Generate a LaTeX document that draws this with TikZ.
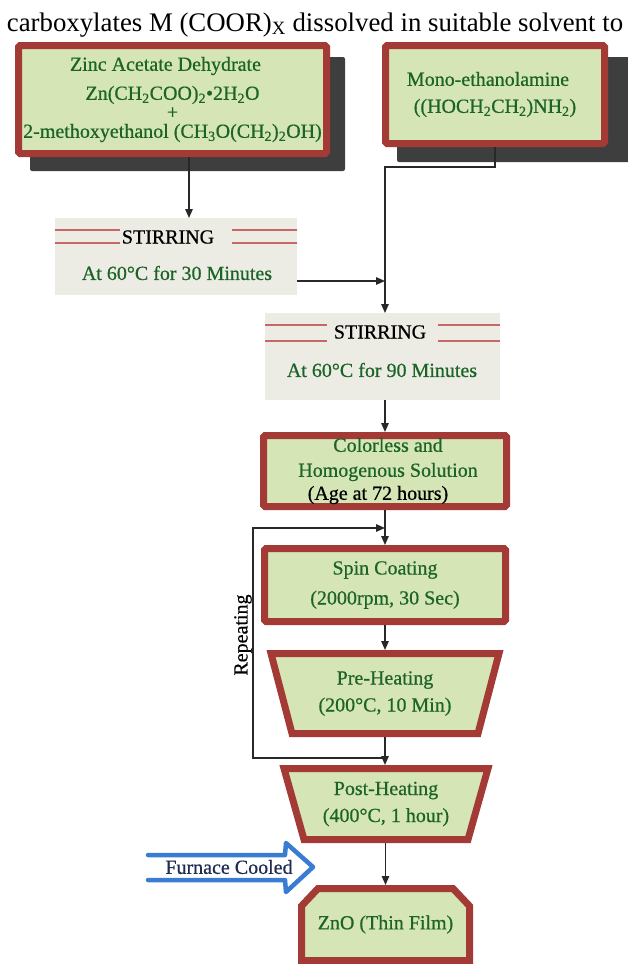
\documentclass[tikz,border=0pt]{standalone}
\usepackage{fontspec}
\setmainfont{Liberation Serif}
\newfontfamily\heavyfont{Liberation Serif}[FakeBold=0.6]
\usetikzlibrary{arrows.meta,backgrounds}
\definecolor{boxfill}{RGB}{213,229,182}
\definecolor{boxred}{RGB}{164,58,54}
\definecolor{shadowc}{RGB}{62,62,62}
\definecolor{txtgreen}{RGB}{28,100,38}
\definecolor{stirfill}{RGB}{236,236,229}
\definecolor{stirline}{RGB}{196,104,104}
\definecolor{arrowblue}{RGB}{58,124,212}
\definecolor{navy}{RGB}{30,44,84}
\definecolor{connc}{RGB}{40,40,40}
\begin{document}
\begin{tikzpicture}[x=1pt,y=-1pt,
  every node/.style={font=\heavyfont\fontsize{20}{27}\selectfont, inner sep=0pt},
  redbox/.style={draw=boxred, line width=7pt, fill=boxfill, rounded corners=1.5pt, text=txtgreen, align=center},
  ghost/.style={text=txtgreen, align=center, outer sep=0pt},
  trapborder/.style={draw=boxred, line width=7pt, fill=boxfill},
  stirbox/.style={fill=stirfill, outer sep=0pt},
  stirrule/.style={draw=stirline, line width=1.6pt},
  conn/.style={draw=connc, line width=1.4pt, -{Triangle[length=9pt,width=7.5pt]}},
  shadowfill/.style={fill=shadowc, rounded corners=2pt},
  coolarrow/.style={draw=arrowblue, line width=4.5pt, line join=round, line cap=round},
]
\useasboundingbox (0,0) rectangle (627,964);

% title
\node[anchor=base, font=\rmfamily\fontsize{26.8}{30}\selectfont] (title) at (315,31)
  {carboxylates M (COOR)\textsubscript{X} dissolved in suitable solvent to};

% top boxes
\node[redbox, minimum width=308, minimum height=108] (zinc) at (172.5,99.5)
  {Zinc Acetate Dehydrate\hspace*{14pt}\\[2pt]
   Zn(CH\textsubscript{2}COO)\textsubscript{2}•2H\textsubscript{2}O\hspace*{12pt}\\[-8pt]
   +\hspace*{12pt}\\[-8pt]
   2-methoxyethanol (CH\textsubscript{3}O(CH\textsubscript{2})\textsubscript{2}OH)};
\node[redbox, minimum width=219, minimum height=98] (mono) at (495,94.5)
  {Mono-ethanolamine\hspace*{14pt}\\((HOCH\textsubscript{2}CH\textsubscript{2})NH\textsubscript{2})};

% stirring 1
\node[stirbox, minimum width=242, minimum height=77] (stir1) at (176,256.5) {};
\node (stir1a) at (168,237) {STIRRING};
\node[text=txtgreen] (stir1b) at (177,273) {At 60°C for 30 Minutes};
\draw[stirrule] ([shift={(0,12)}]stir1.north west) -- ++(65,0);
\draw[stirrule] ([shift={(0,25)}]stir1.north west) -- ++(65,0);
\draw[stirrule] ([shift={(0,12)}]stir1.north east) -- ++(-65,0);
\draw[stirrule] ([shift={(0,25)}]stir1.north east) -- ++(-65,0);

% stirring 2
\node[stirbox, minimum width=235, minimum height=87] (stir2) at (382.5,356.5) {};
\node (stir2a) at (380,332) {STIRRING};
\node[text=txtgreen] (stir2b) at (382,370) {At 60°C for 90 Minutes};
\draw[stirrule] ([shift={(0,12)}]stir2.north west) -- ++(62,0);
\draw[stirrule] ([shift={(0,28)}]stir2.north west) -- ++(62,0);
\draw[stirrule] ([shift={(0,12)}]stir2.north east) -- ++(-62,0);
\draw[stirrule] ([shift={(0,28)}]stir2.north east) -- ++(-62,0);

% solution
\node[redbox, minimum width=243, minimum height=71] (sol) at (385,471)
  {\hspace*{6pt}Colorless and\\[-2pt]\hspace*{6pt}Homogenous Solution\\[-4pt]{\color{black}(Age at 72 hours)\hspace*{14pt}}};

% spin coating
\node[redbox, minimum width=241, minimum height=73] (spin) at (385,585)
  {Spin Coating\\[3pt](2000rpm, 30 Sec)};

% pre-heating
\node[ghost, minimum width=236, minimum height=87] (pre) at (385,693.5)
  {Pre-Heating\\(200°C, 10 Min)};
% post-heating
\node[ghost, minimum width=212, minimum height=78] (post) at (386,804)
  {Post-Heating\\(400°C, 1 hour)};
% ZnO
\node[ghost, minimum width=175, minimum height=79] (zno) at (385.5,924.5)
  {ZnO (Thin Film)};

\begin{scope}[on background layer]
  \fill[shadowfill] ([shift={(15,15)}]zinc.north west) rectangle ([shift={(15,14)}]zinc.south east);
  \fill[shadowfill] ([shift={(15,15)}]mono.north west) rectangle ([shift={(22,15)}]mono.south east);
  \draw[trapborder] ([shift={(4,3.5)}]pre.north west) -- ([shift={(-4,3.5)}]pre.north east)
     -- ([shift={(-25,-3.5)}]pre.south east) -- ([shift={(25,-3.5)}]pre.south west) -- cycle;
  \draw[trapborder] ([shift={(4,3.5)}]post.north west) -- ([shift={(-4,3.5)}]post.north east)
     -- ([shift={(-24,-3.5)}]post.south east) -- ([shift={(24,-3.5)}]post.south west) -- cycle;
  \draw[trapborder] ([shift={(3.5,-3.5)}]zno.south west) -- ([shift={(3.5,21)}]zno.north west)
     -- ([shift={(20,3.5)}]zno.north west) -- ([shift={(-20,3.5)}]zno.north east)
     -- ([shift={(-3.5,21)}]zno.north east) -- ([shift={(-3.5,-3.5)}]zno.south east) -- cycle;
\end{scope}

% connectors
\coordinate (z1) at ([xshift=16.5pt]zinc.south);
\draw[conn] (z1) -- (z1 |- stir1.north);
\coordinate (j1) at (385,167);
\draw[conn] (mono.south) |- (j1) -- (j1 |- stir2.north);
\coordinate (j2) at (385,281);
\draw[conn] (stir1.east |- j2) -- (j2);
\draw[conn] (sol.north |- stir2.south) -- (sol.north);
\draw[conn] (sol.south) -- (spin.north);
\draw[conn] (spin.south) -- (pre.north);
\draw[conn] (pre.south) -- (pre.south |- post.north);
\draw[conn] (post.south -| zno.north) -- (zno.north);

% repeating loop
\coordinate (rb) at (385,758);
\coordinate (rl) at (253,640);
\coordinate (rt) at (385,528);
\draw[conn] (rb) -| (rl) |- (rt);
\node[rotate=90] (rep) at (243,635) {Repeating};

% furnace cooled arrow
\draw[coolarrow] (148,855) -- (285,855) -- (286,843) -- (313,867) -- (286,892) -- (285,880) -- (148,880);
\node[text=navy] (furn) at (229,867) {Furnace Cooled};
\end{tikzpicture}
\end{document}
